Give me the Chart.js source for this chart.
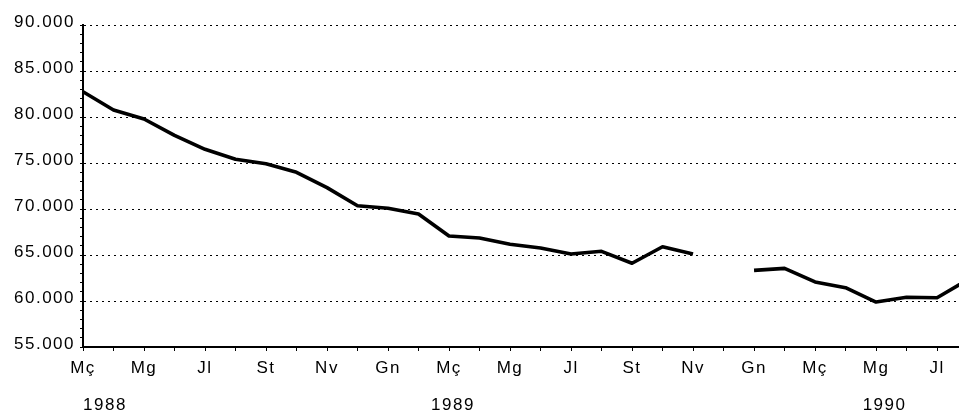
<!DOCTYPE html>
<html><head><meta charset="utf-8">
<script src="https://cdn.jsdelivr.net/npm/chart.js@4.4.1/dist/chart.umd.min.js"></script>
<style>html,body{margin:0;padding:0;background:#fff;overflow:hidden}canvas{display:block}</style>
</head><body>
<canvas id="c" width="959" height="414"></canvas>
<script>
// Monthly categories, March 1988 - August 1990 (Catalan abbreviations)
const categories = ['Mç','Ab','Mg','Jn','Jl','Ag','St','Oc','Nv','Ds','Gn','Fb',
                    'Mç','Ab','Mg','Jn','Jl','Ag','St','Oc','Nv','Ds','Gn','Fb',
                    'Mç','Ab','Mg','Jn','Jl','Ag'];
const values = [82750, 80760, 79780, 78000, 76490, 75400, 74920, 73990, 72320, 70360, 70080, 69460,
                67070, 66850, 66160, 65760, 65110, 65400, 64100, 65900, 65110, null, 63330, 63550,
                62070, 61450, 59890, 60400, 60360, 62300];
const years = ['1988', '1989', '1990'];
const yTickValues = [55000, 60000, 65000, 70000, 75000, 80000, 85000, 90000];

function fmt(v) {
  return String(v).replace(/\B(?=(\d{3})+(?!\d))/g, '.');
}

const FONT = "'Liberation Sans', Arial, sans-serif";
Chart.defaults.font.family = FONT;
Chart.defaults.font.size = 17;
Chart.defaults.color = '#000';

const spacing = {
  id: 'spacing',
  beforeUpdate(c) { c.ctx.letterSpacing = '1.5px'; },
  beforeDraw(c) { c.ctx.letterSpacing = '1.5px'; }
};

const yearPlugin = {
  id: 'years',
  afterDraw(c) {
    const ctx = c.ctx, xs = c.scales.x;
    const at = [0.72, 12.13, 26.28];
    ctx.save();
    ctx.letterSpacing = '1.5px';
    ctx.font = '17px ' + FONT;
    ctx.fillStyle = '#000';
    ctx.textAlign = 'center';
    ctx.textBaseline = 'middle';
    years.forEach((y, i) => ctx.fillText(y, xs.getPixelForValue(at[i]), c.chartArea.bottom + 58));
    ctx.restore();
  }
};

new Chart(document.getElementById('c'), {
  type: 'line',
  data: {
    datasets: [{
      data: values.map((v, i) => ({x: i, y: v})),
      borderColor: '#000',
      borderWidth: 3.6,
      pointRadius: 0,
      tension: 0,
      spanGaps: false,
      borderJoinStyle: 'round'
    }]
  },
  options: {
    responsive: false,
    animation: false,
    layout: {padding: {left: 0, right: 0, top: 25, bottom: 0}},
    plugins: {legend: {display: false}, tooltip: {enabled: false}},
    scales: {
      x: {
        type: 'linear',
        min: 0,
        max: 28.72,
        afterBuildTicks: s => { s.ticks = categories.map((_, i) => ({value: i})).filter(t => t.value <= s.max); },
        afterFit: s => { s.height = 67; },
        ticks: {
          autoSkip: false,
          maxRotation: 0,
          padding: 7,
          callback: v => (v % 2 === 0 ? categories[v] : '')
        },
        grid: {drawOnChartArea: false, drawTicks: true, tickLength: 4, tickColor: '#000', tickWidth: 1},
        border: {display: true, color: '#000', width: 2}
      },
      y: {
        min: 55000,
        max: 90000,
        afterBuildTicks: s => {
          const t = [];
          for (let v = s.min; v <= s.max; v += 1000) t.push({value: v});
          s.ticks = t;
        },
        afterFit: s => { s.width = 83; },
        ticks: {
          autoSkip: false,
          padding: 5,
          labelOffset: -2.5,
          callback: v => (yTickValues.includes(v) ? fmt(v) : '')
        },
        grid: {
          color: c => (c.tick && yTickValues.includes(c.tick.value) ? '#000' : 'rgba(0,0,0,0)'),
          lineWidth: 1,
          drawTicks: true,
          tickLength: 3,
          tickColor: '#000',
          tickWidth: 1
        },
        border: {display: true, color: '#000', width: 2, dash: [2, 4]}
      }
    }
  },
  plugins: [spacing, yearPlugin]
});
</script>
</body></html>
